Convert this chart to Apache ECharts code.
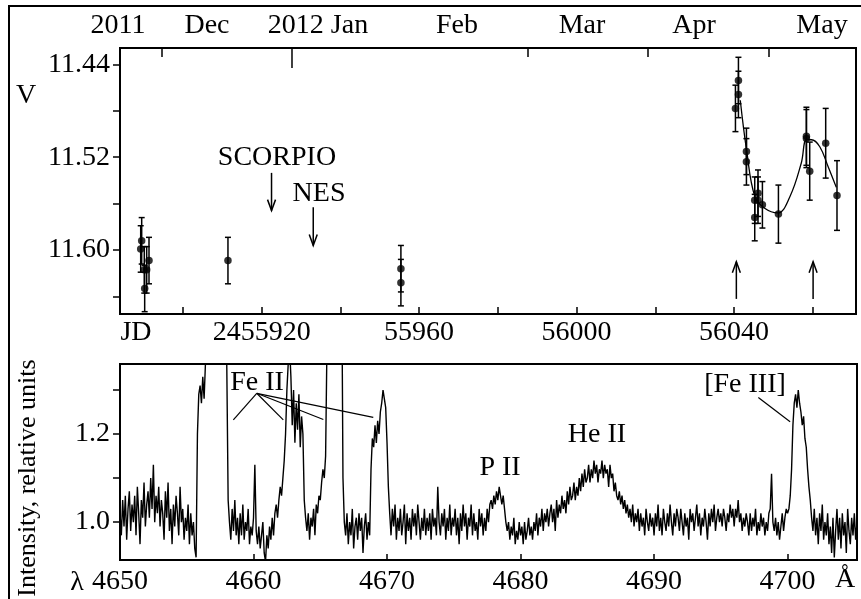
<!DOCTYPE html>
<html>
<head>
<meta charset="utf-8">
<script src="https://cdn.jsdelivr.net/npm/echarts@6.0.0/dist/echarts.min.js"></script>
<style>
  html, body {margin:0; padding:0; background:#fff;}
  #main {width:861px; height:599px;}
</style>
</head>
<body>
<div id="main"></div>
<script>
// ---- light curve (top panel) ----
var obsJD  = [55889.51, 55889.26, 55890.17, 55890.78, 55891.37, 55890.27, 55911.43, 55955.37, 55955.37,
              56040.37, 56041.13, 56041.13, 56043.16, 56043.16, 56045.27, 56045.27, 56046.10, 56046.10,
              56047.22, 56051.29, 56058.40, 56058.40, 56059.24, 56063.30, 56066.17];
var obsV   = [11.592, 11.599, 11.617, 11.617, 11.609, 11.633, 11.609, 11.616, 11.628,
              11.478, 11.454, 11.466, 11.515, 11.524, 11.557, 11.572, 11.551, 11.557,
              11.561, 11.569, 11.502, 11.504, 11.532, 11.508, 11.553];
var obsErr = [0.02, 0.02, 0.02, 0.02, 0.02, 0.02, 0.02, 0.02, 0.02,
              0.02, 0.02, 0.02, 0.02, 0.02, 0.02, 0.02, 0.02, 0.02,
              0.02, 0.025, 0.025, 0.025, 0.025, 0.03, 0.03];

var fitJD = [56041.6, 56043.2, 56045.3, 56047.8, 56051.1, 56054.2, 56057.1, 56058.4, 56059.7, 56061.8, 56063.9, 56066.0];
var fitV  = [11.471, 11.514, 11.554, 11.564, 11.568, 11.554, 11.525, 11.505, 11.505, 11.511, 11.528, 11.546];

// arrows: JD, tail V, head V
var arrowJD   = [55922.5, 55933.1, 56040.6, 56060.1];
var arrowTail = [11.5335, 11.563, 11.642, 11.642];
var arrowHead = [11.566, 11.596, 11.610, 11.610];

var monthTicks = [55894.7, 55987.6, 56018.1, 56048.8];
var yearTicks  = [55927.7];
var jdTicks    = [55900, 55920, 55940, 55960, 55980, 56000, 56020, 56040, 56060];
var jdLabels   = [55920, 55960, 56000, 56040];
var vTicks     = [11.44, 11.48, 11.52, 11.56, 11.60, 11.64];
var vLabels    = [11.44, 11.52, 11.60];

// ---- spectrum (bottom panel), sampled every 0.1 A from 4650 ----
var specStart = 4650, specStep = 0.1;
var specFlux = [
  1.02, 0.97, 1.05, 0.99, 1.06, 0.96, 1.03, 1.07, 0.98, 1.04,   // 4650
  1.00, 1.06, 0.97, 1.08, 1.02, 0.95, 1.05, 1.01, 1.09, 0.99,   // 4651
  1.04, 1.07, 1.01, 1.10, 1.03, 1.13, 1.00, 1.06, 1.02, 1.08,   // 4652
  0.99, 1.05, 1.02, 0.96, 1.07, 1.01, 1.09, 0.98, 1.03, 0.95,   // 4653
  1.04, 0.99, 1.06, 1.02, 0.97, 1.08, 1.00, 1.03, 0.96, 1.01,   // 4654
  0.98, 1.04, 0.95, 1.02, 0.97, 1.00, 0.94, 0.92, 1.20, 1.29,   // 4655
  1.31, 1.27, 1.33, 1.28, 1.36, 1.45, 1.70, 2.00, 2.00, 2.00,   // 4656
  2.00, 2.00, 2.00, 2.00, 2.00, 2.00, 2.00, 2.00, 1.80, 1.60,   // 4657
  1.35, 1.05, 1.00, 0.96, 1.03, 0.98, 1.05, 0.97, 1.01, 0.95,   // 4658
  1.02, 0.97, 1.04, 0.96, 1.00, 0.98, 1.03, 0.95, 0.99, 0.97,   // 4659
  1.01, 1.13, 0.98, 0.95, 0.99, 0.94, 0.97, 1.00, 0.93, 0.91,   // 4660
  0.97, 0.94, 0.99, 0.96, 1.01, 0.97, 1.02, 1.04, 1.01, 1.05,   // 4661
  1.08, 1.06, 1.10, 1.14, 1.20, 1.30, 1.36, 1.40, 1.33, 1.22,   // 4662
  1.30, 1.18, 1.27, 1.21, 1.29, 1.17, 1.24, 1.20, 1.05, 1.01,   // 4663
  0.98, 1.02, 0.96, 1.01, 0.99, 1.03, 0.97, 1.04, 1.02, 1.06,   // 4664
  1.05, 1.09, 1.12, 1.10, 1.15, 1.40, 2.00, 2.00, 2.00, 2.00,   // 4665
  2.00, 2.00, 2.00, 2.00, 2.00, 2.00, 1.60, 1.10, 1.00, 0.97,   // 4666
  1.02, 0.95, 1.00, 0.97, 1.03, 0.94, 0.99, 1.01, 0.96, 1.02,   // 4667
  0.98, 1.01, 0.93, 0.99, 1.02, 0.96, 1.00, 0.97, 1.12, 1.19,   // 4668
  1.17, 1.22, 1.18, 1.23, 1.20, 1.25, 1.27, 1.30, 1.28, 1.26,   // 4669
  1.18, 1.08, 1.02, 0.97, 1.03, 0.99, 1.04, 0.96, 1.01, 0.98,   // 4670
  1.03, 0.97, 1.00, 1.04, 0.95, 1.02, 0.98, 1.01, 0.96, 1.03,   // 4671
  0.99, 1.02, 0.97, 1.04, 1.00, 0.96, 1.01, 0.98, 1.03, 0.97,   // 4672
  1.01, 0.98, 1.02, 0.96, 1.03, 0.99, 1.01, 0.97, 1.08, 1.00,   // 4673
  0.97, 1.02, 0.99, 1.03, 0.96, 1.01, 0.98, 1.04, 0.97, 1.01,   // 4674
  0.99, 1.03, 0.97, 1.01, 0.95, 1.02, 0.98, 1.04, 0.99, 1.02,   // 4675
  0.96, 1.01, 0.99, 1.04, 0.97, 1.02, 0.98, 1.00, 0.96, 1.03,   // 4676
  0.99, 1.02, 0.97, 1.01, 0.98, 1.03, 1.00, 1.04, 1.05, 1.03,   // 4677
  1.06, 1.04, 1.07, 1.05, 1.08, 1.06, 1.04, 1.06, 1.03, 1.00,   // 4678
  0.98, 1.00, 0.96, 0.99, 0.97, 1.01, 0.95, 0.98, 0.96, 1.00,   // 4679
  0.97, 0.99, 0.95, 1.00, 0.96, 0.98, 1.01, 0.97, 0.99, 0.96,   // 4680
  1.00, 0.98, 1.02, 0.97, 1.01, 0.99, 1.03, 0.98, 1.02, 1.00,   // 4681
  1.03, 0.99, 1.02, 1.04, 1.00, 1.03, 0.98, 1.05, 1.01, 1.04,   // 4682
  1.02, 1.06, 1.03, 1.05, 1.02, 1.07, 1.04, 1.08, 1.05, 1.06,   // 4683
  1.09, 1.05, 1.08, 1.06, 1.10, 1.07, 1.11, 1.08, 1.12, 1.09,   // 4684
  1.10, 1.13, 1.09, 1.12, 1.10, 1.14, 1.11, 1.13, 1.09, 1.12,   // 4685
  1.11, 1.14, 1.10, 1.13, 1.11, 1.12, 1.08, 1.13, 1.10, 1.11,   // 4686
  1.07, 1.09, 1.06, 1.05, 1.07, 1.04, 1.06, 1.03, 1.05, 1.02,   // 4687
  1.04, 1.01, 1.03, 1.00, 1.04, 0.99, 1.02, 1.00, 1.03, 0.98,   // 4688
  1.02, 0.99, 1.01, 0.97, 1.03, 1.00, 0.98, 1.02, 0.99, 1.01,   // 4689
  0.97, 1.02, 0.99, 1.04, 0.98, 1.01, 0.97, 1.03, 1.00, 0.98,   // 4690
  1.02, 0.99, 1.04, 1.00, 0.97, 1.02, 0.99, 1.03, 1.01, 0.98,   // 4691
  1.03, 1.00, 0.97, 1.02, 0.99, 1.01, 0.96, 1.03, 1.00, 1.02,   // 4692
  0.98, 1.01, 1.04, 0.99, 1.02, 0.97, 1.01, 0.99, 1.03, 1.00,   // 4693
  0.96, 1.02, 0.99, 1.03, 1.00, 1.04, 0.98, 1.01, 1.03, 1.00,   // 4694
  1.02, 0.99, 1.03, 1.01, 0.98, 1.02, 1.00, 1.04, 1.01, 1.03,   // 4695
  0.99, 1.03, 1.01, 1.05, 1.00, 1.02, 0.98, 1.01, 0.99, 1.02,   // 4696
  1.00, 0.97, 1.02, 0.98, 1.01, 0.99, 1.03, 0.97, 1.00, 0.98,   // 4697
  1.02, 0.99, 1.01, 0.97, 1.00, 0.98, 1.02, 1.03, 1.11, 1.00,   // 4698
  0.98, 1.01, 0.97, 1.00, 0.96, 0.99, 1.02, 0.98, 1.01, 1.03,   // 4699
  1.02, 1.03, 1.06, 1.12, 1.22, 1.27, 1.29, 1.26, 1.30, 1.27,   // 4700
  1.25, 1.22, 1.24, 1.19, 1.17, 1.12, 1.08, 1.05, 1.01, 0.98,   // 4701
  1.03, 0.97, 1.01, 0.95, 1.02, 0.98, 1.04, 0.96, 1.00, 0.97,   // 4702
  1.02, 0.95, 0.99, 0.93, 1.01, 0.92, 0.98, 1.03, 0.96, 1.01,   // 4703
  0.94, 1.02, 0.97, 1.00, 0.93, 1.03, 0.98, 0.95, 1.01, 0.97,   // 4704
  1.02, 0.96, 1.00                                              // 4705
];
var lambdaTicks  = [4660, 4670, 4680, 4690, 4700];
var lambdaLabels = [4650, 4660, 4670, 4680, 4690, 4700];
var fluxTicks    = [1.0, 1.1, 1.2, 1.3];
var fluxLabels   = [1.0, 1.2];

// leader lines for line identifications: [lambda0, I0, lambda1, I1]
var leaders = [
  [4660.24, 1.2925, 4658.49, 1.232],
  [4660.24, 1.2925, 4662.23, 1.232],
  [4660.24, 1.2925, 4665.23, 1.233],
  [4660.24, 1.2925, 4668.97, 1.238],
  [4697.81, 1.283, 4700.19, 1.228]
];

var FONT = 'Liberation Serif, Times New Roman, serif';
var BLACK = '#000';

var chart = echarts.init(document.getElementById('main'), null, {renderer: 'canvas'});

function txt(text, x, y, size, rot) {
  return {
    type: 'text', x: x, y: y, rotation: rot || 0, z: 10,
    style: {text: text, fill: BLACK, font: size + 'px ' + FONT, align: 'center', verticalAlign: 'middle'}
  };
}

var axisText = {color: BLACK, fontFamily: FONT, fontSize: 28};

chart.setOption({
  animation: false,
  backgroundColor: '#fff',
  grid: [
    {left: 120, top: 48, width: 736, height: 266, show: true, borderColor: BLACK, borderWidth: 2, backgroundColor: 'transparent'},
    {left: 120, top: 364, width: 737, height: 196, show: true, borderColor: BLACK, borderWidth: 2, backgroundColor: 'transparent'}
  ],
  xAxis: [
    {
      gridIndex: 0, type: 'value', min: 55884, max: 56071, position: 'bottom',
      axisLine: {lineStyle: {color: BLACK, width: 2}},
      axisTick: {inside: true, length: 7, lineStyle: {color: BLACK, width: 1.5}, customValues: jdTicks},
      axisLabel: Object.assign({margin: 5, customValues: jdLabels, formatter: function (v) {
        return v === 55920 ? '2455920' : String(v);
      }}, axisText),
      splitLine: {show: false}
    },
    {
      gridIndex: 0, type: 'value', min: 55884, max: 56071, position: 'top',
      axisLine: {lineStyle: {color: BLACK, width: 2}},
      axisTick: {inside: true, length: 9, lineStyle: {color: BLACK, width: 1.5}, customValues: monthTicks},
      axisLabel: {show: false},
      splitLine: {show: false}
    },
    {
      gridIndex: 1, type: 'value', min: 4650, max: 4705.2, position: 'bottom',
      axisLine: {lineStyle: {color: BLACK, width: 2}},
      axisTick: {inside: true, length: 6, lineStyle: {color: BLACK, width: 1.5}, customValues: lambdaTicks},
      axisLabel: Object.assign({margin: 8, customValues: lambdaLabels, formatter: function (v) {
        return String(v);
      }}, axisText),
      splitLine: {show: false}
    }
  ],
  yAxis: [
    {
      gridIndex: 0, type: 'value', inverse: true, min: 11.426, max: 11.655,
      axisLine: {show: true, lineStyle: {color: BLACK, width: 2}},
      axisTick: {show: true, inside: false, length: 7, lineStyle: {color: BLACK, width: 1.5}, customValues: vTicks},
      axisLabel: Object.assign({margin: 10, customValues: vLabels, formatter: function (v) {
        return v.toFixed(2);
      }}, axisText),
      splitLine: {show: false}
    },
    {
      gridIndex: 1, type: 'value', min: 0.914, max: 1.359,
      axisLine: {show: true, lineStyle: {color: BLACK, width: 2}},
      axisTick: {show: true, inside: false, length: 7, lineStyle: {color: BLACK, width: 1.5}, customValues: fluxTicks},
      axisLabel: Object.assign({margin: 10, customValues: fluxLabels, formatter: function (v) {
        return v.toFixed(1);
      }}, axisText),
      splitLine: {show: false}
    }
  ],
  series: [
    {
      name: 'fit', type: 'line', xAxisIndex: 0, yAxisIndex: 0,
      smooth: 0.4, showSymbol: false, symbol: 'none',
      lineStyle: {color: BLACK, width: 1.3},
      data: fitJD.map(function (x, i) { return [x, fitV[i]]; })
    },
    {
      name: 'errors', type: 'custom', xAxisIndex: 0, yAxisIndex: 0, clip: true,
      data: obsJD.map(function (x, i) { return [x, obsV[i], obsErr[i]]; }),
      renderItem: function (params, api) {
        var x = api.value(0), v = api.value(1), e = api.value(2);
        var a = api.coord([x, v - e]), b = api.coord([x, v + e]);
        var st = {stroke: BLACK, lineWidth: 1.5};
        return {
          type: 'group', children: [
            {type: 'line', shape: {x1: a[0], y1: a[1], x2: b[0], y2: b[1]}, style: st},
            {type: 'line', shape: {x1: a[0] - 3, y1: a[1], x2: a[0] + 3, y2: a[1]}, style: st},
            {type: 'line', shape: {x1: b[0] - 3, y1: b[1], x2: b[0] + 3, y2: b[1]}, style: st}
          ]
        };
      }
    },
    {
      name: 'V', type: 'scatter', xAxisIndex: 0, yAxisIndex: 0,
      symbol: 'circle', symbolSize: 7.5, itemStyle: {color: BLACK},
      data: obsJD.map(function (x, i) { return [x, obsV[i]]; })
    },
    {
      name: 'arrows', type: 'custom', xAxisIndex: 0, yAxisIndex: 0,
      data: arrowJD.map(function (x, i) { return [x, arrowTail[i], arrowHead[i]]; }),
      renderItem: function (params, api) {
        var t = api.coord([api.value(0), api.value(1)]);
        var h = api.coord([api.value(0), api.value(2)]);
        var d = h[1] > t[1] ? 1 : -1;
        var st = {stroke: BLACK, lineWidth: 1.5, fill: null};
        return {
          type: 'group', children: [
            {type: 'line', shape: {x1: t[0], y1: t[1], x2: h[0], y2: h[1]}, style: st},
            {type: 'polyline', shape: {points: [[h[0] - 4, h[1] - d * 11], [h[0], h[1]], [h[0] + 4, h[1] - d * 11]]}, style: st}
          ]
        };
      }
    },
    {
      name: 'yearTick', type: 'custom', xAxisIndex: 0, yAxisIndex: 0,
      data: yearTicks.map(function (x) { return [x]; }),
      renderItem: function (params, api) {
        var p = api.coord([api.value(0), 11.426]);
        return {type: 'line', shape: {x1: p[0], y1: p[1], x2: p[0], y2: p[1] + 20}, style: {stroke: BLACK, lineWidth: 1.5}};
      }
    },
    {
      name: 'spectrum', type: 'line', xAxisIndex: 2, yAxisIndex: 1,
      showSymbol: false, symbol: 'none', clip: true,
      lineStyle: {color: BLACK, width: 1.4},
      data: specFlux.map(function (y, i) { return [specStart + i * specStep, y]; })
    },
    {
      name: 'leaders', type: 'custom', xAxisIndex: 2, yAxisIndex: 1,
      data: leaders,
      renderItem: function (params, api) {
        var a = api.coord([api.value(0), api.value(1)]);
        var b = api.coord([api.value(2), api.value(3)]);
        return {type: 'line', shape: {x1: a[0], y1: a[1], x2: b[0], y2: b[1]}, style: {stroke: BLACK, lineWidth: 1.2}};
      }
    }
  ],
  graphic: [
    {type: 'rect', shape: {x: 9, y: 6, width: 900, height: 700}, style: {stroke: BLACK, lineWidth: 2, fill: null}},
    txt('2011', 118, 26, 28), txt('Dec', 207, 26, 28), txt('2012 Jan', 318, 26, 28),
    txt('Feb', 457, 26, 28), txt('Mar', 582, 26, 28), txt('Apr', 694, 26, 28), txt('May', 822, 26, 28),
    txt('V', 26, 96, 28),
    txt('SCORPIO', 277, 158, 28), txt('NES', 319, 194, 28),
    txt('JD', 136, 333, 28),
    txt('Intensity, relative units', 28, 478, 26, Math.PI / 2),
    txt('λ', 77, 583, 28), txt('Å', 845, 580, 28),
    txt('Fe II', 257, 383, 28), txt('P II', 500, 468, 28), txt('He II', 597, 435, 28), txt('[Fe III]', 745, 385, 28)
  ]
});
</script>
</body>
</html>
